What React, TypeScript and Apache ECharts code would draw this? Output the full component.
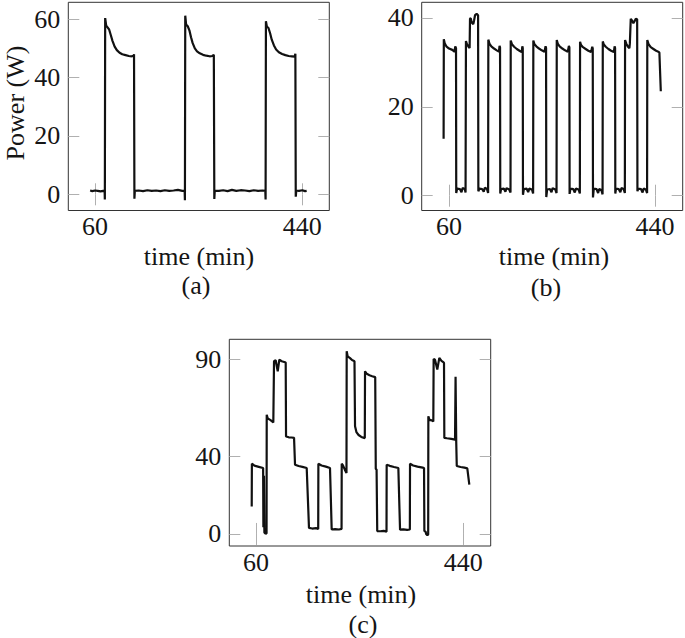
import React, { useEffect, useRef } from "react";
import * as echarts from "echarts";

// ---- Data: [time (min), power (W)] ----
const seriesA: [number, number][] = [
  [51, 1.3], [55, 1.1], [60, 1.3], [65, 1.2], [70, 1.0], [75, 1.2], [77.6, 1.1],
  [78, -1.8], [78.6, 60.4], [80.5, 57.8], [83, 57.2], [86, 56.4], [89, 54.5], [92, 52.6],
  [96, 50.6], [100, 49.4], [105, 48.5], [110, 48.0], [116, 47.7], [122, 47.4], [127, 47.3],
  [131, 47.5], [131.5, 48.0], [132.2, -1.5], [133, 1.2], [140, 1.3], [148, 1.1], [156, 1.4],
  [164, 1.2], [172, 1.3], [180, 1.1], [188, 1.4], [196, 1.2], [204, 1.3], [212, 1.5],
  [220, 1.2], [224.3, 1.2],
  [224.8, -2.0], [225.4, 61.2], [227, 58.2], [230, 57.6], [233, 56.2], [236, 53.8], [239, 51.8],
  [243, 50.0], [247, 49.0], [252, 48.3], [258, 47.8], [264, 47.5], [270, 47.3], [275, 47.4],
  [277.8, 47.8], [278.7, -1.6], [279.5, 1.2], [287, 1.2], [295, 1.4], [303, 1.1], [311, 1.5],
  [319, 1.2], [327, 1.4], [335, 1.3], [343, 1.1], [351, 1.4], [359, 1.2], [367, 1.3], [372.2, 1.2],
  [372.7, -1.8], [373.3, 59.3], [375, 57.5], [378, 57.0], [381, 55.2], [384, 53.0], [388, 51.0],
  [392, 49.6], [397, 48.7], [403, 48.1], [409, 47.7], [415, 47.4], [421, 47.3], [426, 47.2],
  [427.3, 48.2], [428, -0.8], [429, 1.3], [434, 1.2], [440, 1.4], [445, 1.1], [448, 1.2],
];

const seriesB: [number, number][] = [
  [50, 12.8], [50.4, 35.2], [52, 34.3], [55, 33.6], [60, 33.1], [66, 32.8], [70, 32.4], [71.5, 33.6], [72.9, 33.2],
  [73.3, 0.6], [75, 1.6], [80, 1.5], [83, 0.8], [85, 1.7], [89, 1.5], [90.5, 0.7],
  [91.2, 34.8], [93, 34.1], [96, 33.5], [98, 33.2], [98.7, 39.8], [100, 39.9], [102, 38.9], [104.8, 38.6],
  [106, 39.3], [108, 40.6], [111, 40.9], [113.6, 40.6],
  [114.1, 1.0], [116, 1.6], [121, 1.5], [124, 0.9], [126, 1.8], [130, 1.5], [132.1, 0.6],
  [132.5, 35.1], [134.5, 34.2], [138, 33.6], [143, 33.1], [148, 32.7], [152, 32.4], [153.2, 33.7], [154.1, 33.3],
  [154.5, 0.5], [156, 1.5], [161, 1.6], [164, 0.9], [166, 1.7], [171, 1.4], [173.4, 0.7],
  [173.8, 34.9], [176, 34.1], [180, 33.5], [185, 33.0], [190, 32.6], [194, 32.3], [195.2, 33.6], [196, 33.2],
  [196.4, 0.2], [198, 1.5], [203, 1.6], [206, 0.8], [208, 1.6], [213, 1.4], [215.1, 0.5],
  [215.5, 34.9], [217.5, 34.1], [221, 33.6], [226, 33.1], [231, 32.7], [236, 32.4], [238.1, 33.6], [239, 33.2],
  [239.4, -0.3], [241, 1.4], [246, 1.5], [249, 0.8], [251, 1.7], [256, 1.4], [258.3, 0.6],
  [258.7, 35.0], [260.5, 34.2], [264, 33.6], [269, 33.1], [274, 32.7], [279, 32.4], [281.1, 33.7], [282, 33.3],
  [282.4, 0.4], [284, 1.6], [289, 1.5], [292, 0.7], [294, 1.6], [299, 1.4], [301.3, 0.5],
  [301.7, 34.6], [303.5, 33.9], [307, 33.4], [312, 33.0], [317, 32.6], [322, 32.3], [324.2, 33.5], [325.1, 33.1],
  [325.5, -0.4], [327, 1.6], [332, 1.5], [335, 0.6], [337, 1.5], [341, 1.3], [343.2, 0.3],
  [343.6, 34.7], [345.5, 34.0], [349, 33.5], [354, 33.0], [359, 32.6], [364, 32.3], [365.4, 33.6], [366.3, 33.2],
  [366.7, 0.5], [368, 1.6], [373, 1.5], [376, 0.8], [378, 1.7], [382, 1.5], [384.3, 0.6],
  [384.7, 35.0], [387, 34.2], [390, 33.5], [392.7, 33.2], [393.5, 34.2], [395.2, 39.8], [398, 39.3], [400, 38.8],
  [402, 39.2], [404.5, 39.8], [407, 39.7],
  [407.5, 1.0], [409, 1.6], [414, 1.5], [417, 0.7], [419, 1.6], [423, 1.4], [425.3, 0.6],
  [425.7, 35.0], [428, 34.1], [432, 33.4], [437, 33.0], [442, 32.6], [446, 32.4], [448, 32.2], [450.6, 23.5],
];

const seriesC: [number, number][] = [
  [52.1, 14.2], [52.4, 36.2], [57, 35.2], [65, 34.6], [73, 34.0], [73.5, 3.5], [74.5, 30.0], [75.3, 0.8],
  [77, 0.3], [79.3, 0.2], [79.6, 61.4], [81.5, 59.5], [86, 58.8], [91.7, 57.5],
  [93, 89.0], [96, 89.5], [99.8, 83.8], [102.7, 89.8], [107.1, 89.0], [113.2, 88.5], [114.4, 88.3],
  [115, 50.2], [120, 49.8], [125, 49.7], [129.7, 49.5], [131.5, 35.7], [138, 35.0], [145, 34.6],
  [152.9, 34.0], [157.1, 3.1], [163, 2.8], [170, 3.0], [174, 2.6], [174.3, 36.2], [180, 35.3],
  [188, 34.7], [195.6, 34.0], [198.7, 2.3], [205, 2.5], [212, 2.3], [216.8, 2.6],
  [217.1, 36.2], [219, 35.5], [223, 33.0], [225.8, 31.4], [226.2, 94.1], [228, 91.5], [232.3, 90.6],
  [236, 89.6], [240.5, 89.0], [241.5, 55.5], [244, 52.5], [248, 51.0], [253, 50.0], [259.4, 49.4],
  [259.8, 83.8], [263, 82.5], [268, 81.8], [273, 81.3], [278.5, 80.8], [279.5, 33.5], [281, 33.2],
  [282.2, 1.5], [288, 1.4], [294, 1.6], [299.2, 1.2], [299.5, 35.7], [305, 35.1], [313, 34.5],
  [320.9, 34.0], [324, 2.2], [330, 2.4], [337, 2.1], [342, 2.3], [342.3, 36.2], [348, 35.3],
  [356, 34.7], [365.5, 34.2], [368, 34.0], [368.6, 1.5], [371, 1.2], [371.8, 0.0], [374, -0.6],
  [375.6, -0.3], [375.9, 60.6], [378, 58.8], [382, 58.5], [385, 58.0], [385.6, 90.2], [388.1, 89.8],
  [392.3, 84.7], [396, 90.7], [400, 89.2], [403.3, 88.5], [404.6, 88.2], [405.2, 49.5], [410, 49.3],
  [418, 49.0], [424.8, 48.6], [425.8, 81.0], [427, 47.5], [428, 35.0], [429, 34.8], [435, 34.5],
  [442, 34.2], [447.3, 33.8], [451, 25.4],
];

const xTicks = [60, 440];
const yTicksA = [0, 20, 40, 60];
const yTicksB = [0, 20, 40];
const yTicksC = [0, 40, 90];

const FONT = "'Liberation Serif', 'Times New Roman', serif";
const TXT = "#151515";
const FS = 26;

export default function App() {
  const ref = useRef<HTMLDivElement>(null);
  useEffect(() => {
    if (!ref.current) return;
    const chart = echarts.init(ref.current, undefined, { renderer: "svg" });

    const panels = [
      { grid: { left: 68.3, top: 2.3, width: 261, height: 208.2 }, x: [11, 489.5], y: [-5.55, 65.8], yt: yTicksA, data: seriesA },
      { grid: { left: 421.7, top: 2.3, width: 261, height: 208.2 }, x: [9.6, 491], y: [-3.33, 43.5], yt: yTicksB, data: seriesB },
      { grid: { left: 229.3, top: 339.3, width: 261.4, height: 206.7 }, x: [11, 490.2], y: [-6.2, 100.3], yt: yTicksC, data: seriesC },
    ];

    const tick = { show: true, inside: true, length: 11, lineStyle: { color: "#b0b0b0", width: 1 } };
    const grids: any[] = [];
    const xAxes: any[] = [];
    const yAxes: any[] = [];
    const series: any[] = [];
    panels.forEach((p, i) => {
      grids.push({ ...p.grid, show: true, borderColor: "#333", borderWidth: 1, backgroundColor: "transparent" });
      xAxes.push({
        type: "value", gridIndex: i, position: "bottom", min: p.x[0], max: p.x[1],
        axisLine: { show: false }, splitLine: { show: false },
        axisTick: { ...tick, customValues: xTicks },
        axisLabel: { customValues: xTicks, margin: 3, fontFamily: FONT, fontSize: FS, color: TXT },
      });
      xAxes.push({
        type: "value", gridIndex: i, position: "top", min: p.x[0], max: p.x[1],
        axisLine: { show: false }, splitLine: { show: false },
        axisTick: { ...tick, customValues: xTicks },
        axisLabel: { show: false },
      });
      yAxes.push({
        type: "value", gridIndex: i, position: "left", min: p.y[0], max: p.y[1],
        axisLine: { show: false }, splitLine: { show: false },
        axisTick: { ...tick, customValues: p.yt },
        axisLabel: { customValues: p.yt, margin: 8, fontFamily: FONT, fontSize: FS, color: TXT },
      });
      yAxes.push({
        type: "value", gridIndex: i, position: "right", min: p.y[0], max: p.y[1],
        axisLine: { show: false }, splitLine: { show: false },
        axisTick: { ...tick, customValues: p.yt },
        axisLabel: { show: false },
      });
      series.push({
        type: "line", xAxisIndex: i * 2, yAxisIndex: i * 2, data: p.data,
        showSymbol: false, symbol: "none", lineStyle: { color: "#111", width: 2.2 }, z: 3,
      });
    });

    const textStyle = (t: string) => ({ text: t, fill: TXT, font: `${FS}px ${FONT}`, textAlign: "center", textVerticalAlign: "middle" });

    chart.setOption({
      animation: false,
      backgroundColor: "#fff",
      grid: grids,
      xAxis: xAxes,
      yAxis: yAxes,
      series,
      graphic: [
        { type: "text", x: 15, y: 103, rotation: Math.PI / 2, style: textStyle("Power (W)") },
        { type: "text", x: 199, y: 256, style: textStyle("time (min)") },
        { type: "text", x: 554, y: 256, style: textStyle("time (min)") },
        { type: "text", x: 361, y: 594, style: textStyle("time (min)") },
        { type: "text", x: 196, y: 285, style: textStyle("(a)") },
        { type: "text", x: 546, y: 287, style: textStyle("(b)") },
        { type: "text", x: 363, y: 624, style: textStyle("(c)") },
      ],
    });
    return () => chart.dispose();
  }, []);
  return <div ref={ref} style={{ position: "absolute", left: 0, top: 0, width: 685, height: 638 }} />;
}
